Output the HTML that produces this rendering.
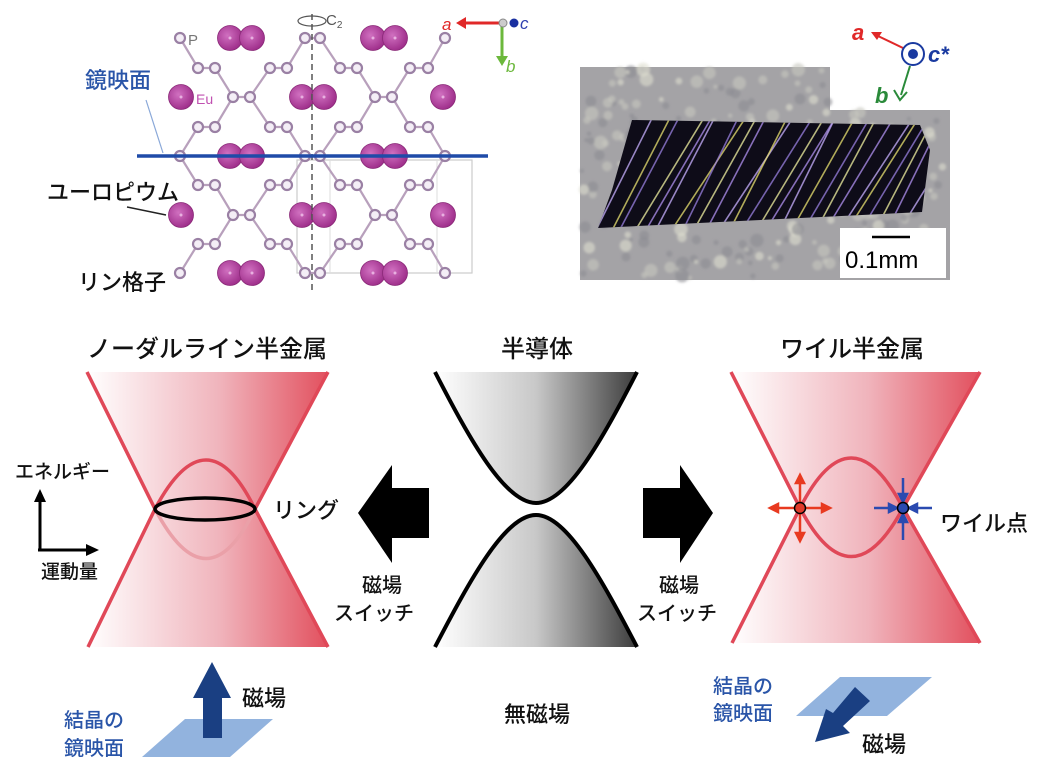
<!DOCTYPE html>
<html><head><meta charset="utf-8"><style>
html,body{margin:0;padding:0;background:#fff;}
svg{display:block;font-family:"Liberation Sans","Noto Sans CJK JP",sans-serif;}
.j{font-family:"Noto Sans CJK JP",sans-serif;font-weight:500;}
</style></head><body>
<svg id="s" width="1063" height="777" viewBox="0 0 1063 777" xmlns="http://www.w3.org/2000/svg">
<defs>
<linearGradient id="rg" x1="0" x2="1" y1="0" y2="0"><stop offset="0" stop-color="#fff"/><stop offset="0.55" stop-color="#f0b4bc"/><stop offset="1" stop-color="#e2505e"/></linearGradient>
<linearGradient id="gg" x1="0" x2="1" y1="0" y2="0"><stop offset="0" stop-color="#fff"/><stop offset="0.5" stop-color="#c8c8c8"/><stop offset="1" stop-color="#3c3c3c"/></linearGradient>
<radialGradient id="eu" cx="0.4" cy="0.4" r="0.6"><stop offset="0" stop-color="#d070c0"/><stop offset="1" stop-color="#a0308c"/></radialGradient>
<clipPath id="cc"><polygon points="632,120 920,125 930,150 922,212 598,228 612,190"/></clipPath>
<filter id="bl"><feGaussianBlur stdDeviation="1.2"/></filter>
</defs>
<!-- crystal structure -->
<g id="cs"></g>
<line x1="312" y1="14" x2="312" y2="292" stroke="#555" stroke-width="1.5" stroke-dasharray="6,4"/>
<ellipse cx="312" cy="21" rx="14" ry="5" fill="none" stroke="#555" stroke-width="1.2"/>
<text x="326" y="25" font-size="15" fill="#555">C<tspan font-size="10" dy="3">2</tspan></text>
<line x1="137" y1="156" x2="488" y2="156" stroke="#1f4ba8" stroke-width="3.5"/>
<text x="85" y="88" class="j" font-size="22" fill="#2a55a8">鏡映面</text>
<line x1="146" y1="100" x2="163" y2="153" stroke="#8aa8d8" stroke-width="1.2"/>
<text x="47" y="200" class="j" font-size="22" fill="#111">ユーロピウム</text>
<line x1="127" y1="207" x2="166" y2="215" stroke="#222" stroke-width="1.5"/>
<text x="78" y="290" class="j" font-size="22" fill="#111">リン格子</text>
<text x="188" y="45" font-size="15" fill="#777">P</text>
<text x="196" y="104" font-size="14" fill="#c050b0">Eu</text>
<!-- axes top-left -->
<line x1="502" y1="23" x2="463" y2="23" stroke="#e02828" stroke-width="3"/>
<polygon points="456,23 466,17 466,29" fill="#e02828"/>
<text x="442" y="30" font-size="17" font-style="italic" fill="#e02828">a</text>
<line x1="502" y1="25" x2="502" y2="58" stroke="#6cb83c" stroke-width="3"/>
<polygon points="502,66 496,56 508,56" fill="#6cb83c"/>
<text x="506" y="72" font-size="17" font-style="italic" fill="#6cb83c">b</text>
<circle cx="503" cy="23" r="4" fill="#ccc" stroke="#888"/>
<circle cx="514" cy="23" r="4.5" fill="#1a30a0"/>
<text x="520" y="29" font-size="17" font-style="italic" fill="#3040b0">c</text>
<!-- photo -->
<polygon points="580,67 830,67 830,110 950,110 950,280 580,280" fill="#a4a3a6"/>
<g id="noise" filter="url(#bl)"></g>
<polygon points="632,120 920,125 930,150 922,212 598,228 612,190" fill="#0e0c18"/>
<g id="streaks" stroke-width="1.6" clip-path="url(#cc)"></g>
<rect x="840" y="228" width="106" height="50" fill="#fff"/>
<line x1="872" y1="237" x2="910" y2="237" stroke="#000" stroke-width="2.5"/>
<text x="845" y="268" font-size="24" fill="#000">0.1mm</text>
<line x1="903" y1="48" x2="878" y2="36" stroke="#e02828" stroke-width="2"/>
<polygon points="871,32 882,32 877,40" fill="#e02828"/>
<text x="852" y="40" font-size="22" font-weight="bold" font-style="italic" fill="#e02828">a</text>
<circle cx="913" cy="54" r="11" fill="#fff" stroke="#1a3aa0" stroke-width="2"/>
<circle cx="913" cy="54" r="5" fill="#1a3aa0"/>
<text x="928" y="62" font-size="22" font-weight="bold" font-style="italic" fill="#1a3aa0">c*</text>
<line x1="910" y1="66" x2="901" y2="95" stroke="#2a8a3a" stroke-width="2"/>
<polyline points="894,90 900,100 907,92" fill="none" stroke="#2a8a3a" stroke-width="2"/>
<text x="875" y="103" font-size="22" font-weight="bold" font-style="italic" fill="#2a8a3a">b</text>
<!-- titles -->
<text x="207" y="357" class="j" font-size="24" text-anchor="middle" fill="#111">ノーダルライン半金属</text>
<text x="537" y="357" class="j" font-size="24" text-anchor="middle" fill="#111">半導体</text>
<text x="852" y="357" class="j" font-size="24" text-anchor="middle" fill="#111">ワイル半金属</text>
<!-- left cone -->
<polygon points="87,372 328,372 255,509 328,647 87,647 155,509" fill="url(#rg)"/>
<path d="M155,509 Q207,608 255,509" fill="none" stroke="#eaa0a8" stroke-width="3.5"/>
<path d="M87,372 L155,509 L88,647 M328,372 L255,509 L328,647 M155,509 Q207,411 255,509" fill="none" stroke="#e04858" stroke-width="3.5"/>
<ellipse cx="205" cy="509" rx="50" ry="11" fill="none" stroke="#000" stroke-width="3.5"/>
<text x="273" y="518" class="j" font-size="22" fill="#111">リング</text>
<line x1="40" y1="550" x2="40" y2="500" stroke="#000" stroke-width="3"/>
<polygon points="40,489 34,502 46,502" fill="#000"/>
<line x1="38" y1="550" x2="88" y2="550" stroke="#000" stroke-width="3"/>
<polygon points="99,550 86,544 86,556" fill="#000"/>
<text x="15" y="478" class="j" font-size="19" fill="#111">エネルギー</text>
<text x="41" y="578" class="j" font-size="19" fill="#111">運動量</text>
<!-- arrows -->
<polygon points="358,513 392,465 392,488 429,488 429,538 392,538 392,563" fill="#000"/>
<polygon points="713,513 680,465 680,488 643,488 643,538 680,538 680,563" fill="#000"/>
<text x="382" y="592" class="j" font-size="20" text-anchor="middle" fill="#111">磁場</text>
<text x="374" y="620" class="j" font-size="20" text-anchor="middle" fill="#111">スイッチ</text>
<text x="679" y="592" class="j" font-size="20" text-anchor="middle" fill="#111">磁場</text>
<text x="677" y="620" class="j" font-size="20" text-anchor="middle" fill="#111">スイッチ</text>
<!-- semiconductor -->
<path d="M435,372 C470,440 505,503 536,503 C567,503 602,440 637,372 Z" fill="url(#gg)"/>
<path d="M435,647 C470,580 505,515 536,515 C567,515 602,580 637,647 Z" fill="url(#gg)"/>
<path d="M435,372 C470,440 505,503 536,503 C567,503 602,440 637,372 M435,647 C470,580 505,515 536,515 C567,515 602,580 637,647" fill="none" stroke="#000" stroke-width="4"/>
<text x="537" y="722" class="j" font-size="22" text-anchor="middle" fill="#111">無磁場</text>
<!-- right cone -->
<polygon points="731,372 980,372 903,508 980,643 731,643 800,508" fill="url(#rg)"/>
<path d="M731,372 L800,508 L732,643 M980,372 L903,508 L980,643 M800,508 Q851,408 903,508 M800,508 Q851,605 903,508" fill="none" stroke="#e04858" stroke-width="3.5"/>
<g stroke="#e83a20" stroke-width="2.5" fill="#e83a20">
<line x1="773" y1="508" x2="827" y2="508"/><line x1="800" y1="478" x2="800" y2="538"/>
<polygon points="770,508 778,504 778,512"/><polygon points="830,508 822,504 822,512"/>
<polygon points="800,475 796,483 804,483"/><polygon points="800,541 796,533 804,533"/>
</g>
<circle cx="800" cy="508" r="5.5" fill="#e03a2a" stroke="#000" stroke-width="1.5"/>
<g stroke="#2a4ab0" stroke-width="2.5" fill="#2a4ab0">
<line x1="874" y1="508" x2="893" y2="508"/><line x1="932" y1="508" x2="913" y2="508"/>
<line x1="903" y1="478" x2="903" y2="497"/><line x1="903" y1="540" x2="903" y2="519"/>
<polygon points="897,508 889,504 889,512"/><polygon points="909,508 917,504 917,512"/>
<polygon points="903,502 899,494 907,494"/><polygon points="903,514 899,522 907,522"/>
</g>
<circle cx="903" cy="508" r="5.5" fill="#2a4ab0" stroke="#000" stroke-width="1.5"/>
<text x="940" y="531" class="j" font-size="22" fill="#111">ワイル点</text>
<!-- bottom left -->
<polygon points="142,757 230,757 273,719 185,719" fill="#92b3de"/>
<polygon points="203,738 222,738 222,698 231,698 212,662 193,698 203,698" fill="#1a3f82"/>
<text x="242" y="706" class="j" font-size="22" fill="#111">磁場</text>
<text x="64" y="727" class="j" font-size="20" fill="#2a55a8">結晶の</text>
<text x="64" y="755" class="j" font-size="20" fill="#2a55a8">鏡映面</text>
<!-- bottom right -->
<polygon points="796,716 887,716 932,677 840,677" fill="#92b3de"/>
<polygon points="855,687 870,701 843,726 850,733 815,742 826,709 833,713" fill="#1a3f82"/>
<text x="862" y="752" class="j" font-size="22" fill="#111">磁場</text>
<text x="713" y="693" class="j" font-size="20" fill="#2a55a8">結晶の</text>
<text x="713" y="720" class="j" font-size="20" fill="#2a55a8">鏡映面</text>
</svg>
<script>
(function(){
var NS="http://www.w3.org/2000/svg";
function el(p,t,a){var e=document.createElementNS(NS,t);for(var k in a)e.setAttribute(k,a[k]);p.appendChild(e);return e;}
var cs=document.getElementById('cs');
var rows=[38,68,97,127,156,185,215,244,273];
var type=['E','O','M','O','E','O','M','O','E'];
var X={E:[180,305,320,445],O:[198,215,270,287,340,357,410,428],M:[233,250,375,392]};
el(cs,'rect',{x:297,y:160,width:175,height:113,fill:'none',stroke:'#ccc','stroke-width':1.2});
el(cs,'line',{x1:330,y1:160,x2:330,y2:273,stroke:'#ddd','stroke-width':1});
el(cs,'line',{x1:437,y1:160,x2:437,y2:273,stroke:'#ddd','stroke-width':1});
function L(a,b,c,d){el(cs,'line',{x1:a,y1:b,x2:c,y2:d,stroke:'#b8a0bc','stroke-width':2.2});}
// pairs: [x in E/M row, x in O row]
var EO=[[180,198],[305,287],[320,340],[445,428]];
var MO=[[233,215],[250,270],[375,357],[392,410]];
for(var i=0;i<8;i++){
 var a=type[i],b=type[i+1],y1=rows[i],y2=rows[i+1];
 var pairs=(a=='E'||b=='E')?EO:MO;
 pairs.forEach(function(p){ if(a=='O') L(p[1],y1,p[0],y2); else L(p[0],y1,p[1],y2);});
}
rows.forEach(function(y,i){var xs=X[type[i]];
 if(type[i]=='E'){L(305,y,320,y);}else{for(var j=0;j<xs.length;j+=2)L(xs[j],y,xs[j+1],y);}
});
rows.forEach(function(y,i){var t=type[i],eu=[];
 if(t=='E')eu=[230,252,373,395]; if(t=='M')eu=[181,302,324,443];
 eu.forEach(function(x){el(cs,'circle',{cx:x,cy:y,r:12.5,fill:'url(#eu)',stroke:'#8a2a78','stroke-width':0.8});el(cs,'circle',{cx:x,cy:y,r:1.5,fill:'#e8b0e0'});});
});
rows.forEach(function(y,i){X[type[i]].forEach(function(x){el(cs,'circle',{cx:x,cy:y,r:5,fill:'#f4eef6',stroke:'#9a80a4','stroke-width':2.2});});});
var nz=document.getElementById('noise');var s=7;
function r(){s=(s*9301+49297)%233280;return s/233280;}
for(var k=0;k<260;k++){var x=582+r()*366,y=69+r()*209;if(x>828&&y<112)continue;
 var c=r();el(nz,'circle',{cx:x,cy:y,r:2+r()*5,fill:c<0.45?'#c8c8c0':(c<0.75?'#8c8c92':'#e0e0d0'),opacity:0.6});}
var st=document.getElementById('streaks');
var cols=['#c8b0ff','#e8e070','#9a80e0','#f0f0a0','#b090f0'];
for(var k=0;k<26;k++){var x0=595+k*12+r()*6;var col=cols[k%5];
 el(st,'line',{x1:x0,y1:230,x2:x0+55+r()*20,y2:118,stroke:col,opacity:0.75});}
})();
</script>
</body></html>
